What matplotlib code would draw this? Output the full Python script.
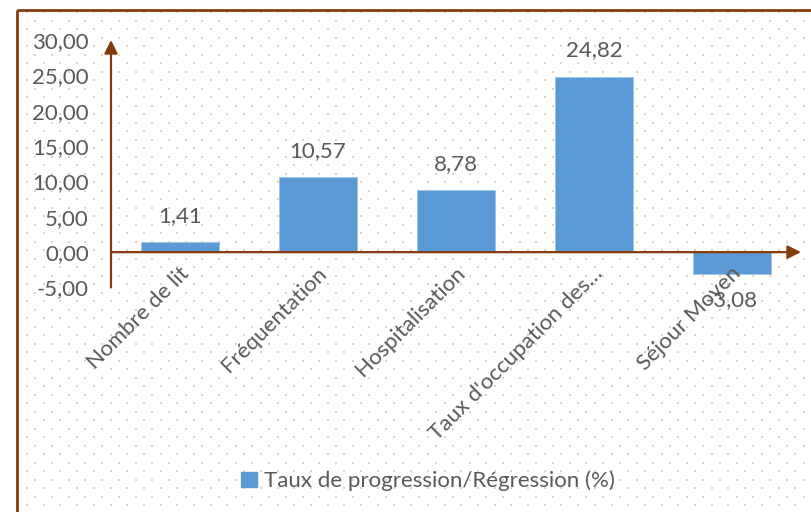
import numpy as np
import matplotlib
matplotlib.use("Agg")
import matplotlib.pyplot as plt
from matplotlib.patches import Rectangle, Patch

categories = ["Nombre de lit", "Fréquentation", "Hospitalisation",
              "Taux d'occupation des…", "Séjour Moyen"]
values = [1.41, 10.57, 8.78, 24.82, -3.08]
yticks = [-5, 0, 5, 10, 15, 20, 25, 30]
series_name = "Taux de progression/Régression (%)"

BLUE, BROWN, TXT, DOT = "#5B9BD5", "#843C0C", "#595959", "#F8CBAD"
W, H = 811, 512
plt.rcParams.update({"font.family": ["Lato", "DejaVu Sans"], "font.size": 16})

fig = plt.figure(figsize=(W / 100, H / 100), dpi=100)
fig.patch.set_facecolor("white")

# dotted backdrop + outer frame, in pixel coordinates
bg = fig.add_axes([0, 0, 1, 1], zorder=0)
bg.set_xlim(0, W)
bg.set_ylim(H, 0)
bg.axis("off")
rows = np.arange(12, H + 9, 8.5)
px, py = [], []
for i, yy in enumerate(rows):
    xs = np.arange(27 + (8.3 if i % 2 else 0), W + 17, 16.7)
    px.extend(xs)
    py.extend([yy] * len(xs))
bg.scatter(px, py, s=3.2, marker="s", color=DOT, linewidths=0)
bg.add_patch(Rectangle((17, 10), W, H, fill=False, edgecolor=BROWN, lw=2))

ax = fig.add_axes([111 / W, (H - 287.5) / H, 690 / W, 247.5 / H], zorder=1)
ax.patch.set_alpha(0)
x = np.arange(len(categories))
ax.bar(x, values, width=0.565, color=BLUE, edgecolor="#9DC3E6", lw=0.6, zorder=2)
for xi, v in zip(x, values):
    ax.annotate(f"{v:.2f}".replace(".", ","), (xi, v), xytext=(0, 19 if v >= 0 else -19),
                textcoords="offset points", ha="center", va="center", color=TXT)

ax.set_xlim(-0.5, 4.5)
ax.set_ylim(-5, 30)
ax.set_yticks(yticks)
ax.set_yticklabels([f"{t:.2f}".replace(".", ",") for t in yticks], color=TXT)
ax.tick_params(axis="y", length=0, pad=16)
ax.set_xticks([])
for s in ax.spines.values():
    s.set_visible(False)

# arrowed axes
ax.annotate("", xy=(-0.5, 30), xytext=(-0.5, -5),
            arrowprops=dict(arrowstyle="-|>", color=BROWN, lw=1.6, mutation_scale=20,
                            shrinkA=0, shrinkB=0), annotation_clip=False)
ax.annotate("", xy=(4.5, 0), xytext=(-0.5, 0),
            arrowprops=dict(arrowstyle="-|>", color=BROWN, lw=1.6, mutation_scale=20,
                            shrinkA=0, shrinkB=0), annotation_clip=False, zorder=3)

for xi, c in zip(x, categories):
    ax.annotate(c, (xi, 0), xytext=(-1, -8), textcoords="offset points", rotation=45,
                rotation_mode="anchor", ha="right", va="top", color=TXT, zorder=4)

fig.legend(handles=[Patch(color=BLUE)], labels=[series_name], loc="center",
           bbox_to_anchor=(428 / W, 1 - 481 / H), frameon=False, handlelength=0.7,
           handleheight=0.7, handletextpad=0.3, labelcolor=TXT)

fig.savefig("out.png", dpi=100)
